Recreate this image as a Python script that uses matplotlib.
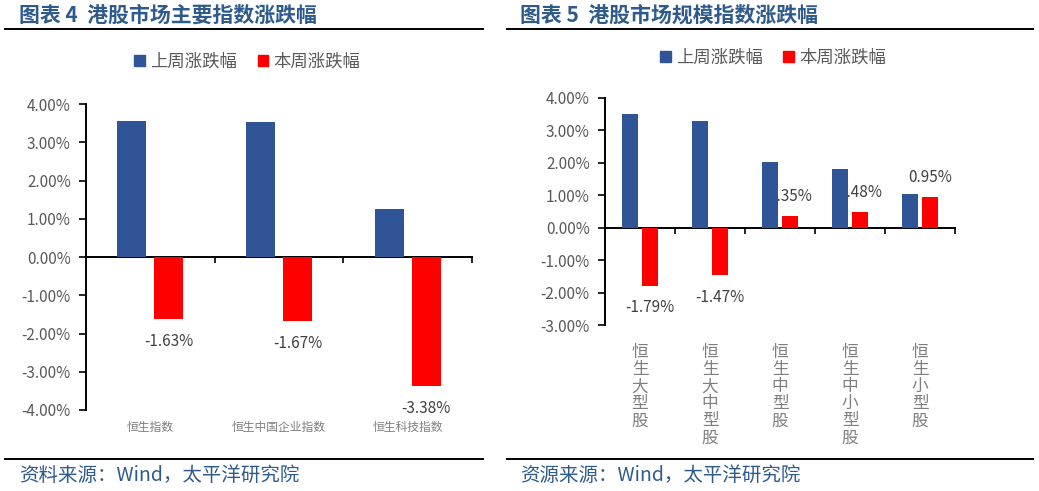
import matplotlib
matplotlib.use("Agg")
import matplotlib.pyplot as plt
import numpy as np
from matplotlib.patches import Patch
from matplotlib.lines import Line2D

plt.rcParams["font.family"] = ["Noto Sans CJK SC", "DejaVu Sans"]

# ---- data
left_cats = ["恒生指数", "恒生中国企业指数", "恒生科技指数"]
left_last = [3.56, 3.52, 1.25]
left_this = [-1.63, -1.67, -3.38]

right_cats = ["恒生大型股", "恒生大中型股", "恒生中型股", "恒生中小型股", "恒生小型股"]
right_last = [3.50, 3.29, 2.01, 1.79, 1.02]
right_this = [-1.79, -1.47, 0.35, 0.48, 0.95]

series_names = ["上周涨跌幅", "本周涨跌幅"]

BLUE = "#2F5597"
RED = "#FF0000"
GREY = "#595959"
TITLE_BLUE = "#2E5A8C"

fig = plt.figure(figsize=(10.39, 4.91), dpi=100)


def draw_panel(ax, cats, last, this, ylim, vertical_labels, cat_size, cat_y):
    x = np.arange(len(cats))
    w, off = 0.225, 0.144
    ax.bar(x - off, last, w, color=BLUE, zorder=3)
    bars = ax.bar(x + off, this, w, color=RED, zorder=3)
    for b, v in zip(bars, this):
        dy = 14 if v >= 0 else -16
        ax.annotate(f"{v:.2f}%", (b.get_x() + b.get_width() / 2, v),
                    xytext=(0, dy), textcoords="offset points",
                    ha="center", va="center", fontsize=11, color="#404040", zorder=2)

    ax.set_xlim(-0.5, len(cats) - 0.5)
    ax.set_ylim(*ylim)
    ax.set_yticks(np.arange(ylim[0], ylim[1] + 0.5, 1))
    ax.set_yticklabels([f"{t:.2f}%" for t in np.arange(ylim[0], ylim[1] + 0.5, 1)])
    ax.tick_params(axis="y", direction="out", length=5, width=1.2, pad=6,
                   labelsize=11, labelcolor=GREY)
    for s in ("top", "right"):
        ax.spines[s].set_visible(False)
    ax.spines["left"].set_linewidth(1.4)
    ax.spines["bottom"].set_position(("data", 0))
    ax.spines["bottom"].set_linewidth(1.4)
    ax.set_xticks(np.arange(0.5, len(cats), 1))
    ax.set_xticklabels([])
    ax.tick_params(axis="x", direction="out", length=4, width=1.2)

    for i, c in enumerate(cats):
        label = "\n".join(c) if vertical_labels else c
        ax.text(i, cat_y, label, transform=ax.get_xaxis_transform(),
                ha="center", va="top", fontsize=cat_size, color="#7F7F7F",
                linespacing=1.0)


# left panel
axl = fig.add_axes([0.0828, 0.165, 0.3715, 0.623])
draw_panel(axl, left_cats, left_last, left_this, (-4, 4), False, 8.5, -0.035)

# right panel
axr = fig.add_axes([0.5823, 0.338, 0.3369, 0.463])
draw_panel(axr, right_cats, right_last, right_this, (-3, 4), True, 12, -0.085)

handles = [Patch(color=BLUE), Patch(color=RED)]
for cx, cy in ((0.238, 0.874), (0.744, 0.882)):
    fig.legend(handles, series_names, loc="center", bbox_to_anchor=(cx, cy),
               ncol=2, frameon=False, fontsize=12.5, labelcolor=GREY,
               handlelength=0.6, handleheight=0.6, handletextpad=0.3,
               columnspacing=1.2)

# titles, rules and sources
titles = ["图表 4  港股市场主要指数涨跌幅", "图表 5  港股市场规模指数涨跌幅"]
sources = ["资料来源：Wind，太平洋研究院", "资源来源：Wind，太平洋研究院"]
for (x0, x1), tx, t, s in zip(((5, 483), (507, 1033)), (19, 520), titles, sources):
    fig.add_artist(Line2D([x0 / 1039, x1 / 1039], [1 - 29 / 491] * 2,
                          color="black", lw=1.4))
    fig.add_artist(Line2D([x0 / 1039, x1 / 1039], [1 - 459 / 491] * 2,
                          color="black", lw=1.4))
    fig.text(tx / 1039, 1 - 15 / 491, t, ha="left", va="center",
             fontsize=15, fontweight="bold", color=TITLE_BLUE)
    fig.text(tx / 1039, 1 - 475 / 491, s, ha="left", va="center",
             fontsize=14, color=TITLE_BLUE)

fig.savefig("out.png", dpi=100)
